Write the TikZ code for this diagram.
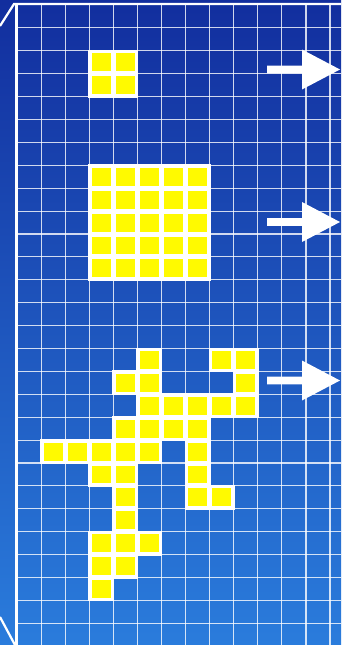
\documentclass[tikz,border=0pt]{standalone}
\usetikzlibrary{calc}
\definecolor{bgtop}{RGB}{18,46,158}
\definecolor{bgbot}{RGB}{42,124,220}
\definecolor{cellyellow}{RGB}{255,250,0}
\tikzset{
  gridline/.style={white,opacity=0.8,line width=1.15pt},
  frameline/.style={white,line width=2.2pt,line join=miter},
  bigarrow/.style={fill=white},
}
\begin{document}
\begin{tikzpicture}[x=1pt,y=-1pt]
\useasboundingbox (0,0) rectangle (341,645);
\shade[top color=bgtop,bottom color=bgbot] (0,0) rectangle (341,645);
% grid
\foreach \k in {1,...,13} {\draw[gridline] ({17+24.08*\k},5) -- ({17+24.08*\k},645);}
\foreach \k in {1,...,27} {\draw[gridline] (17,{5+22.9*\k}) -- (341,{5+22.9*\k});}
% frame
\draw[frameline] (0,26) -- (14,4) -- (341,4);
\draw[frameline] (16.5,4) -- (16.5,645);
\draw[frameline] (0,617) -- (15,645);
% yellow cells
\def\cells{3/2,4/2,3/3,4/3,
 3/7,4/7,5/7,6/7,7/7, 3/8,4/8,5/8,6/8,7/8, 3/9,4/9,5/9,6/9,7/9, 3/10,4/10,5/10,6/10,7/10, 3/11,4/11,5/11,6/11,7/11,
 5/15,8/15,9/15, 4/16,5/16,9/16, 5/17,6/17,7/17,8/17,9/17, 4/18,5/18,6/18,7/18,
 1/19,2/19,3/19,4/19,5/19,7/19, 3/20,4/20,7/20, 4/21,7/21,8/21, 4/22, 3/23,4/23,5/23, 3/24,4/24, 3/25}
\foreach \c/\r in \cells {\fill[white] ({17+24.08*\c-1},{5+22.9*\r-1}) rectangle ++(26.08,24.9);}
\foreach \c/\r in \cells {\fill[cellyellow] ({17+24.08*\c+2.6},{5+22.9*\r+2.5}) rectangle ++(18.9,17.9);}
% arrows
\coordinate (a1) at (267,69.5); \coordinate (b1) at (340,69.5);
\coordinate (a2) at (267,222);  \coordinate (b2) at (340,222);
\coordinate (a3) at (267,380.5); \coordinate (b3) at (340,380.5);
\foreach \i in {1,2,3} {
  \fill[bigarrow] ($(a\i)+(0,-3.9)$) -- ($(b\i)+(-38,-3.9)$) -- ($(b\i)+(-38,-20)$) -- (b\i)
     -- ($(b\i)+(-38,20)$) -- ($(b\i)+(-38,3.9)$) -- ($(a\i)+(0,3.9)$) -- cycle;
}
\end{tikzpicture}
\end{document}
